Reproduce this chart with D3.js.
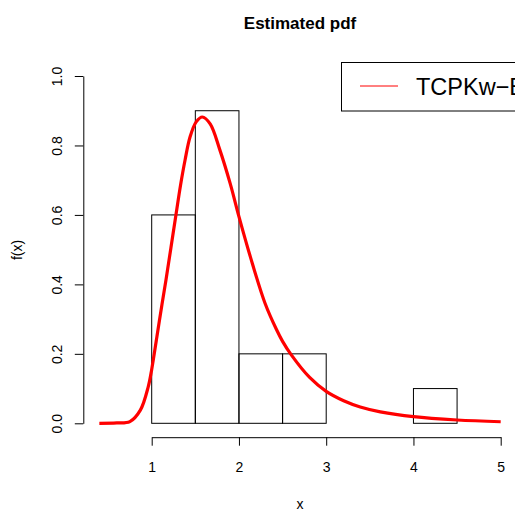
<!DOCTYPE html>
<html>
<head>
<meta charset="utf-8">
<script src="https://cdn.jsdelivr.net/npm/d3@7"></script>
<style>
  body { margin: 0; background: #fff; }
  svg { display: block; font-family: "Liberation Sans", Arial, sans-serif; }
</style>
</head>
<body>
<div class="vis-hist"></div>
<script>
// histogram bins (left edges, width 0.5) and densities
const binStarts = [1, 1.5, 2, 2.5, 3, 3.5, 4];
const binDensity = [0.6, 0.9, 0.2, 0.2, 0, 0, 0.1];
const binWidth = 0.5;

// fitted pdf
const pdfX = [0.4, 0.6, 0.75, 0.87, 0.96, 1.0, 1.06, 1.11, 1.164, 1.22, 1.279, 1.33, 1.383, 1.44, 1.51, 1.58, 1.67, 1.78, 1.9, 2.0, 2.13, 2.3, 2.43, 2.5, 2.6, 2.81, 3.0, 3.2, 3.39, 3.62, 4.0, 4.5, 5.0];
const pdfY = [0, 0.001, 0.005, 0.038, 0.105, 0.155, 0.25, 0.33, 0.413, 0.505, 0.602, 0.685, 0.759, 0.825, 0.868, 0.882, 0.862, 0.788, 0.69, 0.595, 0.48, 0.345, 0.27, 0.236, 0.197, 0.132, 0.092, 0.065, 0.047, 0.033, 0.019, 0.0095, 0.0045];

const xTicks = [1, 2, 3, 4, 5];
const yTicks = [0, 0.2, 0.4, 0.6, 0.8, 1.0];
const legendLabel = "TCPKw\u2212E";

const W = 515, H = 511;

const svg = d3.select(".vis-hist")
    .append("svg")
    .attr("width", W)
    .attr("height", H);

// scales (plot region runs off the right edge like the original)
const x = d3.scaleLinear().domain([1, 5]).range([151.7, 500.7]);
const y = d3.scaleLinear().domain([0, 1]).range([423.3, 76]);

// Title
svg.append("text")
    .attr("x", 300)
    .attr("y", 29)
    .attr("text-anchor", "middle")
    .attr("font-weight", "bold")
    .attr("font-size", "17px")
    .text("Estimated pdf");

// Histogram
svg.selectAll(".bar")
    .data(binStarts)
    .enter()
    .append("rect")
    .attr("class", "bar")
    .attr("x", d => x(d))
    .attr("width", d => x(d + binWidth) - x(d))
    .attr("y", (d, i) => y(binDensity[i]))
    .attr("height", (d, i) => y(0) - y(binDensity[i]))
    .attr("fill", "none")
    .attr("stroke", "#000")
    .attr("stroke-width", 1);

// Curve
const pts = pdfX.map((v, i) => [v, pdfY[i]]);
svg.append("path")
    .datum(pts)
    .attr("fill", "none")
    .attr("stroke", "#ff0000")
    .attr("stroke-width", 3.2)
    .attr("d", d3.line().x(d => x(d[0])).y(d => y(d[1])).curve(d3.curveCatmullRom.alpha(0.5)));

// X axis
const gx = svg.append("g")
    .attr("transform", "translate(0,437.2)")
    .call(d3.axisBottom(x).tickValues(xTicks).tickSizeOuter(0).tickSizeInner(8.5).tickPadding(16).tickFormat(d3.format("d")));
gx.selectAll("text").attr("font-size", "14px").attr("fill", "#000").style("font-family", "Liberation Sans, Arial, sans-serif");
gx.selectAll("line, path").attr("stroke", "#000");

// Y axis
const gy = svg.append("g")
    .attr("transform", "translate(83.3,0)")
    .call(d3.axisLeft(y).tickValues(yTicks).tickSizeOuter(0).tickSizeInner(8.5).tickFormat(d3.format(".1f")));
gy.selectAll("line, path").attr("stroke", "#000");
gy.selectAll("text")
    .attr("font-size", "14px")
    .attr("fill", "#000")
    .style("font-family", "Liberation Sans, Arial, sans-serif")
    .attr("text-anchor", "middle")
    .attr("x", 0)
    .attr("dy", 0)
    .attr("transform", "translate(-21.6,0) rotate(-90)");

// axis titles
svg.append("text")
    .attr("x", 300)
    .attr("y", 509)
    .attr("text-anchor", "middle")
    .attr("font-size", "14px")
    .text("x");

svg.append("text")
    .attr("transform", "translate(22,250) rotate(-90)")
    .attr("text-anchor", "middle")
    .attr("font-size", "14px")
    .text("f(x)");

// Legend
const leg = svg.append("g");
leg.append("rect")
    .attr("x", 341.5)
    .attr("y", 62.5)
    .attr("width", 200)
    .attr("height", 48.5)
    .attr("fill", "#fff")
    .attr("stroke", "#000");
leg.append("line")
    .attr("x1", 360).attr("x2", 398)
    .attr("y1", 86).attr("y2", 86)
    .attr("stroke", "#ff0000")
    .attr("stroke-width", 1);
leg.append("text")
    .attr("x", 416)
    .attr("y", 94.5)
    .attr("font-size", "23.5px")
    .text(legendLabel);
</script>
</body>
</html>
